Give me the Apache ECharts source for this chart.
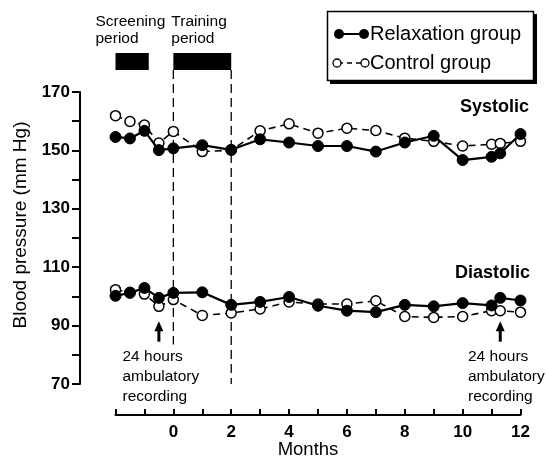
<!DOCTYPE html>
<html><head><meta charset="utf-8">
<script src="https://cdn.jsdelivr.net/npm/echarts@6/dist/echarts.min.js"></script>
<style>html,body{margin:0;padding:0;background:#fff}#c{width:546px;height:459px}</style>
</head><body><div id="c"></div>
<script>
const months = [-2, -1.5, -1, -0.5, 0, 1, 2, 3, 4, 5, 6, 7, 8, 9, 10, 11, 11.3, 12];
const sysRelax = [154.6, 154.1, 156.7, 150.1, 150.7, 151.8, 150.2, 153.8, 152.7, 151.5, 151.5, 149.6, 152.7, 155.0, 146.7, 147.8, 149.0, 155.6];
const sysControl = [161.9, 159.9, 158.7, 152.5, 156.5, 149.6, 150.1, 156.7, 159.1, 155.9, 157.6, 156.8, 154.2, 153.1, 151.5, 152.1, 152.4, 153.1];
const diaRelax = [100.2, 101.2, 102.9, 99.5, 101.2, 101.4, 97.1, 98.1, 99.8, 96.8, 95.1, 94.6, 97.1, 96.6, 97.7, 96.9, 99.5, 98.6];
const diaControl = [102.3, 101.4, 100.8, 96.6, 98.9, 93.5, 94.3, 95.7, 98.1, 97.4, 97.4, 98.5, 93.1, 92.8, 93.1, 95.1, 95.1, 94.6];
const xTickLabels = ['0', '2', '4', '6', '8', '10', '12'];
const yTickLabels = ['70', '90', '110', '130', '150', '170'];
const periods = [{ name: 'Screening\nperiod', from: -2, to: -0.85 }, { name: 'Training\nperiod', from: 0, to: 2 }];
const recordingMonths = [-0.5, 11.3];
const legendNames = ['Relaxation group', 'Control group'];

const FONT = '"Liberation Sans", Arial, Helvetica, sans-serif';
const pair = (xs, ys) => xs.map((x, i) => [x, ys[i]]);

const chart = echarts.init(document.getElementById('c'));
const relaxStyle = {
  type: 'line', symbol: 'circle', symbolSize: 11, silent: true,
  lineStyle: { color: '#000', width: 2.2 },
  itemStyle: { color: '#000', borderColor: '#000', borderWidth: 1 }, z: 3
};
const controlStyle = {
  type: 'line', symbol: 'circle', symbolSize: 10, silent: true,
  lineStyle: { color: '#000', width: 1.6, type: [7, 5] },
  itemStyle: { color: '#fff', borderColor: '#000', borderWidth: 1.5 }, z: 2
};
chart.setOption({
  animation: false,
  grid: { left: 115.5, right: 25.5, top: 92, bottom: 75 },
  xAxis: {
    type: 'value', min: -2, max: 12, interval: 1, offset: 31,
    axisLine: { onZero: false, lineStyle: { color: '#000', width: 2 } },
    axisTick: { inside: true, length: 6, lineStyle: { color: '#000', width: 2 } },
    splitLine: { show: false },
    axisLabel: {
      color: '#000', fontFamily: FONT, fontWeight: 'bold', fontSize: 17, margin: 9,
      formatter: v => xTickLabels.includes(String(v)) ? String(v) : ''
    }
  },
  yAxis: {
    type: 'value', min: 70, max: 170, interval: 10, offset: 35.5,
    axisLine: { show: true, onZero: false, lineStyle: { color: '#000', width: 2 } },
    axisTick: { show: true, length: 8, lineStyle: { color: '#000', width: 2 } },
    splitLine: { show: false },
    axisLabel: {
      color: '#000', fontFamily: FONT, fontWeight: 'bold', fontSize: 17, margin: 10,
      formatter: v => yTickLabels.includes(String(v)) ? String(v) : ''
    }
  },
  series: [
    Object.assign({ name: 'Control systolic', data: pair(months, sysControl) }, controlStyle),
    Object.assign({ name: 'Control diastolic', data: pair(months, diaControl) }, controlStyle),
    Object.assign({ name: 'Relaxation systolic', data: pair(months, sysRelax) }, relaxStyle),
    Object.assign({ name: 'Relaxation diastolic', data: pair(months, diaRelax) }, relaxStyle)
  ]
});

const P = (m, v) => chart.convertToPixel({ gridIndex: 0 }, [m, v]);
const g = [];
const txt = (x, y, text, opt) => g.push(Object.assign({
  type: 'text', x, y, silent: true,
  style: Object.assign({ text, fill: '#000', font: '15px ' + FONT, textVerticalAlign: 'middle', lineHeight: 17 }, opt || {})
}));

// period bars + labels
const barTop = 53, barBot = 70;
periods.forEach((p, i) => {
  const a = P(p.from, 170)[0], b = P(p.to, 170)[0];
  g.push({ type: 'rect', silent: true, shape: { x: a, y: barTop, width: b - a, height: barBot - barTop }, style: { fill: '#000' } });
  txt(i === 0 ? a - 20 : a - 2, 30, p.name, { font: '15.5px ' + FONT });
});
// dashed vertical lines at training period boundaries
[[0, 83.5], [2, 70]].forEach(([m, v]) => {
  const x = P(m, 170)[0];
  g.push({ type: 'line', silent: true, shape: { x1: x, y1: barBot, x2: x, y2: P(m, v)[1] }, style: { stroke: '#000', lineWidth: 1.3, lineDash: [9, 5] } });
});
// arrows for ambulatory recording
recordingMonths.forEach((m, i) => {
  const x = P(m, 0)[0];
  const yTop = P(m, 91.5)[1], yBot = P(m, 84.5)[1];
  g.push({ type: 'line', silent: true, shape: { x1: x, y1: yTop + 6, x2: x, y2: yBot }, style: { stroke: '#000', lineWidth: 3 } });
  g.push({ type: 'polygon', silent: true, shape: { points: [[x, yTop], [x - 4.5, yTop + 10], [x + 4.5, yTop + 10]] }, style: { fill: '#000' } });
  const tx = i === 0 ? 122.5 : 468;
  txt(tx, 377, '24 hours\nambulatory\nrecording', { font: '15.5px ' + FONT, lineHeight: 20 });
});
// series labels
txt(529, 107, 'Systolic', { font: 'bold 18px ' + FONT, textAlign: 'right' });
txt(530, 273, 'Diastolic', { font: 'bold 18px ' + FONT, textAlign: 'right' });
// axis titles
txt(308, 450, 'Months', { font: '18.5px ' + FONT, textAlign: 'center' });
g.push({ type: 'text', x: 21, y: 225, rotation: Math.PI / 2, silent: true,
  style: { text: 'Blood pressure (mm Hg)', fill: '#000', font: '19px ' + FONT, textAlign: 'center', textVerticalAlign: 'middle' } });
// legend box
g.push({ type: 'rect', silent: true, shape: { x: 330, y: 14, width: 207, height: 70 }, style: { fill: '#000' } });
g.push({ type: 'rect', silent: true, shape: { x: 327.5, y: 11.5, width: 206, height: 69 }, style: { fill: '#fff', stroke: '#000', lineWidth: 1.5 } });
g.push({ type: 'line', silent: true, shape: { x1: 339, y1: 34, x2: 364, y2: 34 }, style: { stroke: '#000', lineWidth: 2 } });
[339, 364].forEach(x => g.push({ type: 'circle', silent: true, shape: { cx: x, cy: 34, r: 5 }, style: { fill: '#000' } }));
g.push({ type: 'line', silent: true, shape: { x1: 338, y1: 63, x2: 364, y2: 63 }, style: { stroke: '#000', lineWidth: 1.3, lineDash: [5, 4] } });
[337, 365].forEach(x => g.push({ type: 'circle', silent: true, shape: { cx: x, cy: 63, r: 4 }, style: { fill: '#fff', stroke: '#000', lineWidth: 1.3 } }));
txt(370, 34, legendNames[0], { font: '20px ' + FONT });
txt(370, 63, legendNames[1], { font: '20px ' + FONT });

chart.setOption({ graphic: g });
</script></body></html>
